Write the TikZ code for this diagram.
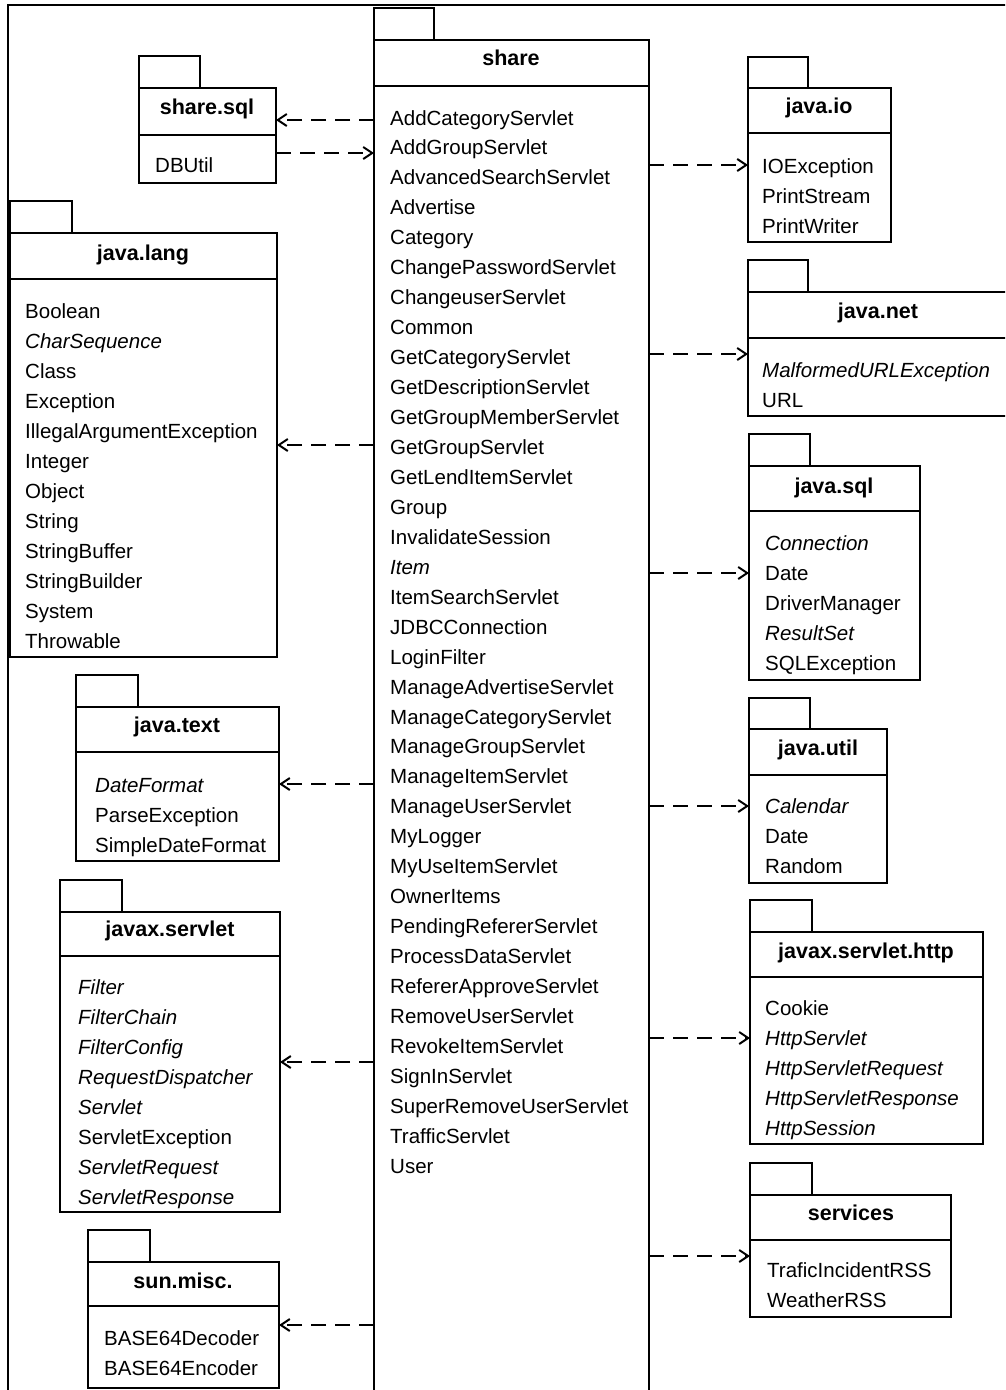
\documentclass[tikz,border=0pt]{standalone}
\usepackage{fontspec}
\setmainfont{Liberation Sans}
\usetikzlibrary{arrows.meta}
\tikzset{
  ln/.style={line width=1.8pt},
  pkgbody/.style={draw, line width=1.8pt, anchor=north west, inner sep=0pt, outer sep=0pt},
  pkgtab/.style={draw, line width=1.8pt},
  ttl/.style={font=\fontsize{21.5}{24}\selectfont\bfseries, inner sep=0pt, anchor=base},
  itm/.style={font=\fontsize{20.5}{24}\selectfont, inner sep=0pt, anchor=base west},
  dep/.style={line width=2pt, dash pattern=on 15pt off 9pt, -{Straight Barb[length=9pt,width=12pt]}}
}
\begin{document}
\begin{tikzpicture}[x=1pt,y=-1pt]
\useasboundingbox (0,0) rectangle (1005,1390);
\clip (0,0) rectangle (1005,1390);
% outer frame
\draw[ln] (8,1420) -- (8,5) -- (1020,5);

% ---------- share ----------
\node[pkgbody, minimum width=275pt, minimum height=1400pt] (share) at (374,40) {};
\draw[pkgtab] (share.north west) rectangle (434,8);
\draw[ln] (374,86) -- (649,86);
\node[ttl] (share-t) at (511,65) {share};
\foreach \t [count=\i from 0] in {AddCategoryServlet, AddGroupServlet, AdvancedSearchServlet, Advertise, Category, ChangePasswordServlet, ChangeuserServlet, Common, GetCategoryServlet, GetDescriptionServlet, GetGroupMemberServlet, GetGroupServlet, GetLendItemServlet, Group, InvalidateSession, \textit{Item}, ItemSearchServlet, JDBCConnection, LoginFilter, ManageAdvertiseServlet, ManageCategoryServlet, ManageGroupServlet, ManageItemServlet, ManageUserServlet, MyLogger, MyUseItemServlet, OwnerItems, PendingRefererServlet, ProcessDataServlet, RefererApproveServlet, RemoveUserServlet, RevokeItemServlet, SignInServlet, SuperRemoveUserServlet, TrafficServlet, User}
  \node[itm] (share-\i) at (390,{125+29.95*\i}) {\t};

% ---------- share.sql ----------
\node[pkgbody, minimum width=137pt, minimum height=95pt] (sql) at (139,88) {};
\draw[pkgtab] (sql.north west) rectangle (200,56);
\draw[ln] (139,135) -- (276,135);
\node[ttl] (sql-t) at (207,114) {share.sql};
\node[itm] (sql-0) at (155,172) {DBUtil};

% ---------- java.lang ----------
\node[pkgbody, minimum width=267pt, minimum height=424pt] (lang) at (10,233) {};
\draw[pkgtab] (lang.north west) rectangle (72,201);
\draw[ln] (10,279) -- (277,279);
\node[ttl] (lang-t) at (143,260) {java.lang};
\foreach \t [count=\i from 0] in {Boolean, \textit{CharSequence}, Class, Exception, IllegalArgumentException, Integer, Object, String, StringBuffer, StringBuilder, System, Throwable}
  \node[itm] (lang-\i) at (25,{318+30*\i}) {\t};

% ---------- java.text ----------
\node[pkgbody, minimum width=203pt, minimum height=154pt] (text) at (76,707) {};
\draw[pkgtab] (text.north west) rectangle (138,675);
\draw[ln] (76,752) -- (279,752);
\node[ttl] (text-t) at (177,732) {java.text};
\foreach \t [count=\i from 0] in {\textit{DateFormat}, ParseException, SimpleDateFormat}
  \node[itm] (text-\i) at (95,{792+30*\i}) {\t};

% ---------- javax.servlet ----------
\node[pkgbody, minimum width=220pt, minimum height=300pt] (servlet) at (60,912) {};
\draw[pkgtab] (servlet.north west) rectangle (122,880);
\draw[ln] (60,956) -- (280,956);
\node[ttl] (servlet-t) at (170,936) {javax.servlet};
\foreach \t [count=\i from 0] in {\textit{Filter}, \textit{FilterChain}, \textit{FilterConfig}, \textit{RequestDispatcher}, \textit{Servlet}, ServletException, \textit{ServletRequest}, \textit{ServletResponse}}
  \node[itm] (servlet-\i) at (78,{994+30*\i}) {\t};

% ---------- sun.misc ----------
\node[pkgbody, minimum width=191pt, minimum height=126pt] (misc) at (88,1262) {};
\draw[pkgtab] (misc.north west) rectangle (150,1230);
\draw[ln] (88,1306) -- (279,1306);
\node[ttl] (misc-t) at (183,1288) {sun.misc.};
\foreach \t [count=\i from 0] in {BASE64Decoder, BASE64Encoder}
  \node[itm] (misc-\i) at (104,{1345+30*\i}) {\t};

% ---------- java.io ----------
\node[pkgbody, minimum width=143pt, minimum height=154pt] (io) at (748,88) {};
\draw[pkgtab] (io.north west) rectangle (808,57);
\draw[ln] (748,133) -- (891,133);
\node[ttl] (io-t) at (819,113) {java.io};
\foreach \t [count=\i from 0] in {IOException, PrintStream, PrintWriter}
  \node[itm] (io-\i) at (762,{173+30*\i}) {\t};

% ---------- java.net ----------
\node[pkgbody, minimum width=262pt, minimum height=124pt] (net) at (748,292) {};
\draw[pkgtab] (net.north west) rectangle (808,260);
\draw[ln] (748,338) -- (1010,338);
\node[ttl] (net-t) at (878,318) {java.net};
\foreach \t [count=\i from 0] in {\textit{MalformedURLException}, URL}
  \node[itm] (net-\i) at (762,{377+30*\i}) {\t};

% ---------- java.sql ----------
\node[pkgbody, minimum width=171pt, minimum height=214pt] (jsql) at (749,466) {};
\draw[pkgtab] (jsql.north west) rectangle (810,434);
\draw[ln] (749,511) -- (920,511);
\node[ttl] (jsql-t) at (834,493) {java.sql};
\foreach \t [count=\i from 0] in {\textit{Connection}, Date, DriverManager, \textit{ResultSet}, SQLException}
  \node[itm] (jsql-\i) at (765,{550+30*\i}) {\t};

% ---------- java.util ----------
\node[pkgbody, minimum width=138pt, minimum height=154pt] (util) at (749,729) {};
\draw[pkgtab] (util.north west) rectangle (810,698);
\draw[ln] (749,775) -- (887,775);
\node[ttl] (util-t) at (818,755) {java.util};
\foreach \t [count=\i from 0] in {\textit{Calendar}, Date, Random}
  \node[itm] (util-\i) at (765,{813+30*\i}) {\t};

% ---------- javax.servlet.http ----------
\node[pkgbody, minimum width=233pt, minimum height=212pt] (http) at (750,932) {};
\draw[pkgtab] (http.north west) rectangle (812,900);
\draw[ln] (750,977) -- (983,977);
\node[ttl] (http-t) at (866,958) {javax.servlet.http};
\foreach \t [count=\i from 0] in {Cookie, \textit{HttpServlet}, \textit{HttpServletRequest}, \textit{HttpServletResponse}, \textit{HttpSession}}
  \node[itm] (http-\i) at (765,{1015+30*\i}) {\t};

% ---------- services ----------
\node[pkgbody, minimum width=201pt, minimum height=122pt] (services) at (750,1195) {};
\draw[pkgtab] (services.north west) rectangle (812,1163);
\draw[ln] (750,1240) -- (951,1240);
\node[ttl] (services-t) at (851,1220) {services};
\foreach \t [count=\i from 0] in {TraficIncidentRSS, WeatherRSS}
  \node[itm] (services-\i) at (767,{1277+30*\i}) {\t};

% ---------- dependencies ----------
\coordinate (sqlin) at ([yshift=15.5pt]sql.east);
\coordinate (sqlout) at ([yshift=-17.5pt]sql.east);
\draw[dep] (share.west |- sqlin) -- (sqlin);
\draw[dep] (sqlout) -- (share.west |- sqlout);
\draw[dep] (share.west |- lang.east) -- (lang.east);
\draw[dep] (share.west |- text.east) -- (text.east);
\draw[dep] (share.west |- servlet.east) -- (servlet.east);
\draw[dep] (share.west |- misc.east) -- (misc.east);
\draw[dep] (share.east |- io.west) -- (io.west);
\draw[dep] (share.east |- net.west) -- (net.west);
\draw[dep] (share.east |- jsql.west) -- (jsql.west);
\draw[dep] (share.east |- util.west) -- (util.west);
\draw[dep] (share.east |- http.west) -- (http.west);
\draw[dep] (share.east |- services.west) -- (services.west);
\end{tikzpicture}
\end{document}
